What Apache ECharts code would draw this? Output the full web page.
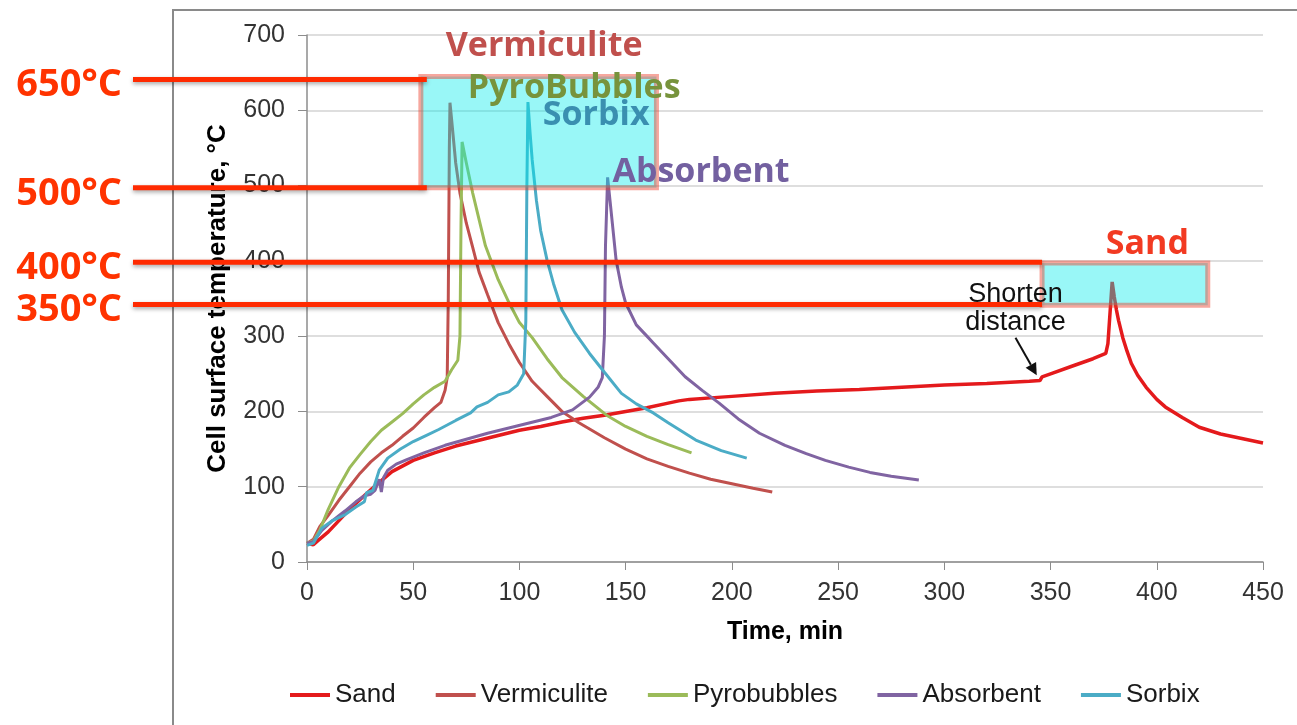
<!DOCTYPE html>
<html><head><meta charset="utf-8">
<script src="https://cdn.jsdelivr.net/npm/echarts@6/dist/echarts.min.js"></script>
<style>html,body{margin:0;padding:0;background:#fff}#c{width:1297px;height:725px}</style>
</head><body><div id="c"></div>
<script>
// ---- data ----
const seriesNames = ['Sand', 'Vermiculite', 'Pyrobubbles', 'Absorbent', 'Sorbix'];

const sandTime = [0,3,5,10,15,20,25,30,35,40,50,60,70,80,90,100,110,120,130,140,150,160,170,175,180,190,200,220,240,260,280,300,320,340,345,346,350,360,370,376,377,379,380,381,382,384,386,388,391,395,400,404,412,420,430,440,450];
const sandTemp = [25,23,28,40,55,70,83,96,108,120,135,145,154,161,168,175,180,186,191,195,200,205,211,214,216,218,220,224,227,229,232,235,237,240,241,246,250,260,270,277,290,372,352,335,321,298,280,264,248,232,216,206,192,179,170,164,158];

const vermTime = [0,3,6,10,15,20,25,30,35,40,45,50,55,60,63,65,66,66.5,67,67.3,68,70,72,75,78,81,85,90,95,100,106,113,120,128,140,150,160,170,180,190,200,210,219];
const vermTemp = [25,30,47,62,82,100,118,133,145,155,167,178,192,205,212,228,245,350,550,610,590,530,490,450,418,385,355,318,290,265,240,220,200,185,165,150,137,127,118,110,104,98,93];

const pyroTime = [0,3,6,10,15,20,25,30,35,40,45,50,55,60,65,68,71,72,72.5,73,75,78,84,90,95,100,106,113,120,130,141,150,160,170,181];
const pyroTemp = [25,28,42,70,100,125,143,160,175,186,197,210,222,232,240,255,268,300,450,558,530,490,420,375,345,318,298,270,245,220,195,180,167,156,145];

const absoTime = [0,3,7,12,18,23,27,30,32,34,35,36,38,42,47,55,65,75,85,95,105,115,125,133,137,139,140,140.5,141.5,143,145.5,148,150,155,160,163,170,178,186,194,203,213,225,235,244,255,265,275,288];
const absoTemp = [25,27,42,55,68,80,88,90,95,110,93,112,122,130,136,145,155,163,171,178,185,192,202,219,232,245,300,420,511,470,401,365,344,315,300,291,270,246,228,211,190,171,155,144,135,126,119,114,109];

const sorbTime = [0,3,7,12,18,23,27,28,31,34,38,44,50,56,62,70,77,80,85,90,95,99,102,103,103.5,104,105,106,108,110,113,116,120,126,133,140,148,155,163,170,183,195,207];
const sorbTemp = [22,25,45,55,63,73,80,92,95,122,138,150,160,168,176,188,198,206,212,222,226,235,250,320,500,611,570,534,480,440,401,370,335,305,277,252,224,210,198,185,162,148,138];

// threshold annotations (label text and the level where each line is drawn)
const thresholdLabels = ['650°C', '500°C', '400°C', '350°C'];
const thresholdLevels = [641, 497, 398, 342];
const thresholdEnds = [56.4, 56.4, 346, 346];

// highlighted windows: [tStart, tEnd, tempLow, tempHigh]
const windowA = [53.6, 164.5, 497, 645];
const windowB = [346, 424, 341, 397];

// material labels: text, anchor time, anchor temperature
const materialLabels = ['Vermiculite', 'PyroBubbles', 'Sorbix', 'Absorbent', 'Sand'];
const materialAnchorT = [65.3, 75.7, 111, 143.8, 376];
const materialAnchorV = [663, 607, 571, 495, 400];

const colors = ['#e41a1c', '#c0504d', '#9bbb59', '#8064a2', '#4bacc6'];
const labelColors = ['#c0504d', '#77933c', '#3a8fb0', '#7360a0', '#f23a22'];

function pairs(t, v) { return t.map((x, i) => [x, v[i]]); }
const allData = [pairs(sandTime, sandTemp), pairs(vermTime, vermTemp), pairs(pyroTime, pyroTemp), pairs(absoTime, absoTemp), pairs(sorbTime, sorbTemp)];

const chart = echarts.init(document.getElementById('c'), null, {renderer: 'canvas'});
const FONT = '"Liberation Sans", Arial, sans-serif';
chart.setOption({
  animation: false,
  backgroundColor: '#fff',
  grid: {left: 307, right: 34, top: 35, bottom: 163},
  legend: {
    data: seriesNames, left: 290, top: 682, padding: 0,
    itemWidth: 40, itemHeight: 4, itemGap: 40, icon: 'rect',
    textStyle: {fontFamily: FONT, fontSize: 26, color: '#1a1a1a'}
  },
  xAxis: {
    type: 'value', min: 0, max: 450, interval: 50,
    name: 'Time, min', nameLocation: 'middle', nameGap: 58,
    nameTextStyle: {fontFamily: FONT, fontSize: 25, fontWeight: 'bold', color: '#000'},
    axisLine: {show: true, onZero: false, lineStyle: {color: '#8c8c8c', width: 1.5}},
    axisTick: {show: true, length: 8, lineStyle: {color: '#8c8c8c'}},
    axisLabel: {fontFamily: FONT, fontSize: 25, color: '#333', margin: 19},
    splitLine: {show: false}
  },
  yAxis: {
    type: 'value', min: 0, max: 700, interval: 100,
    name: 'Cell surface temperature, °C', nameLocation: 'middle', nameGap: 76,
    nameTextStyle: {fontFamily: FONT, fontSize: 26, fontWeight: 'bold', color: '#000'},
    axisLine: {show: true, lineStyle: {color: '#8c8c8c', width: 1.5}},
    axisTick: {show: true, length: 9, lineStyle: {color: '#8c8c8c'}},
    axisLabel: {fontFamily: FONT, fontSize: 25, color: '#333', margin: 22},
    splitLine: {show: true, lineStyle: {color: '#d3d3d3', width: 1.5}}
  },
  series: seriesNames.map((n, i) => ({
    name: n, type: 'line', data: allData[i], symbol: 'none', smooth: false,
    color: colors[i],
    lineStyle: {color: colors[i], width: i === 0 ? 3.5 : 3}
  }))
});

function P(t, v) { return chart.convertToPixel({xAxisIndex: 0, yAxisIndex: 0}, [t, v]); }

const g = [];
// outer frame
g.push({type: 'rect', z: 1, shape: {x: 173, y: 10, width: 1200, height: 800}, style: {fill: null, stroke: '#8a8a8a', lineWidth: 2}, silent: true});

// highlighted windows (translucent overlays above the curves)
[windowA, windowB].forEach(w => {
  const a = P(w[0], w[3]), b = P(w[1], w[2]);
  g.push({type: 'rect', z: 100, shape: {x: a[0], y: a[1], width: b[0] - a[0], height: b[1] - a[1]},
    style: {fill: 'rgba(0,235,235,0.4)', stroke: 'rgba(235,60,40,0.45)', lineWidth: 5}, silent: true});
});

// threshold lines and labels
thresholdLevels.forEach((lv, i) => {
  const e = P(thresholdEnds[i], lv);
  g.push({type: 'line', z: 110, shape: {x1: 133, y1: e[1], x2: e[0], y2: e[1]},
    style: {stroke: '#ff2a00', lineWidth: 5, shadowBlur: 4, shadowOffsetY: 2, shadowColor: 'rgba(0,0,0,0.35)'}, silent: true});
  g.push({type: 'text', z: 120, x: 122, y: e[1] + 6,
    style: {text: thresholdLabels[i], fill: '#ff3300', font: 'bold 38px "Open Sans", sans-serif', textAlign: 'right', textVerticalAlign: 'middle'}, silent: true});
});

// material labels
materialLabels.forEach((s, i) => {
  const p = P(materialAnchorT[i], materialAnchorV[i]);
  g.push({type: 'text', z: 120, x: p[0], y: p[1],
    style: {text: s, fill: labelColors[i], font: 'bold 34px "Open Sans", sans-serif', textAlign: 'left', textVerticalAlign: 'bottom'}, silent: true});
});

// "Shorten distance" note with arrow
const note = P(333.5, 300);
g.push({type: 'text', z: 120, x: note[0], y: note[1],
  style: {text: 'Shorten\ndistance', fill: '#111', font: '27px ' + FONT, textAlign: 'center', textVerticalAlign: 'bottom', lineHeight: 28}, silent: true});
const a0 = P(333.5, 298), a1 = P(343.5, 248);
const ang = Math.atan2(a1[1] - a0[1], a1[0] - a0[0]);
const hl = 12, hw = 6;
const bx = a1[0] - hl * Math.cos(ang), by = a1[1] - hl * Math.sin(ang);
g.push({type: 'line', z: 120, shape: {x1: a0[0], y1: a0[1], x2: bx, y2: by}, style: {stroke: '#111', lineWidth: 2}, silent: true});
g.push({type: 'polygon', z: 120, shape: {points: [[a1[0], a1[1]], [bx + hw * Math.sin(ang), by - hw * Math.cos(ang)], [bx - hw * Math.sin(ang), by + hw * Math.cos(ang)]]}, style: {fill: '#111'}, silent: true});

chart.setOption({graphic: g});
</script></body></html>
